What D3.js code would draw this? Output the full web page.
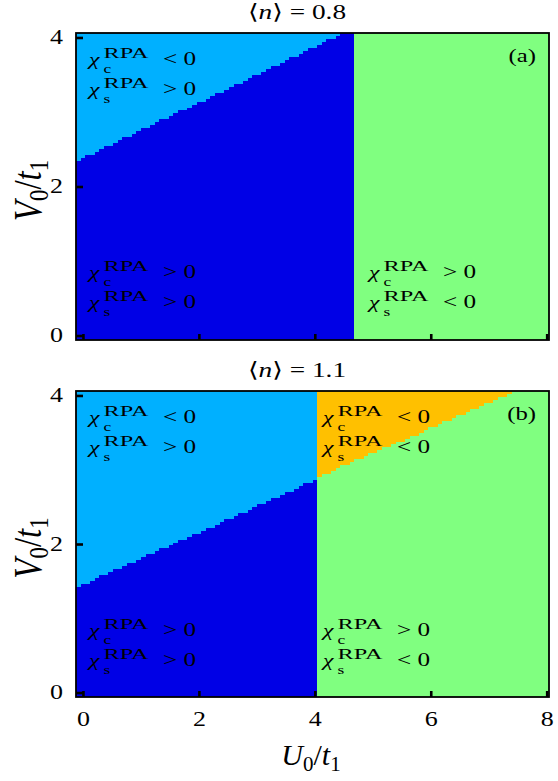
<!DOCTYPE html>
<html><head><meta charset="utf-8">
<script src="https://cdn.jsdelivr.net/npm/d3@7"></script>
<style>
  body { margin: 0; background: #fff; }
  svg { display: block; }
  text { font-family: "Liberation Serif", "DejaVu Serif", serif; fill: #000; }
</style>
</head><body>
<script>
// ---- data -------------------------------------------------------------
// U0/t1 grid columns of the RPA scan (cell width U_STEP)
const U_START = -0.08, U_STEP = 0.08, N_COLS = 102;
const uColumns = d3.range(N_COLS).map(j => +(U_START + j * U_STEP).toFixed(2));

const xTicks = [0, 2, 4, 6, 8];
const yTicks = [0, 2, 4];
const fillings = ["0.8", "1.1"];
const panelTags = ["(a)", "(b)"];

// <n> = 0.8 : V0/t1 where chi_c changes sign, one value per column from U = -0.08
const chiCEdgeA = [2.34, 2.38, 2.42, 2.42, 2.46, 2.50, 2.54, 2.54, 2.58, 2.62,
  2.66, 2.66, 2.70, 2.74, 2.78, 2.78, 2.82, 2.86, 2.90, 2.90,
  2.94, 2.98, 3.02, 3.02, 3.06, 3.10, 3.14, 3.14, 3.18, 3.22,
  3.26, 3.26, 3.30, 3.34, 3.38, 3.38, 3.42, 3.46, 3.50, 3.50,
  3.54, 3.58, 3.62, 3.62, 3.66, 3.70, 3.74, 3.74, 3.78, 3.82,
  3.86, 3.86, 3.90, 3.94, 3.98, 3.98, 4.02, 4.06, 4.06, 4.06];
// <n> = 0.8 : U0/t1 where chi_s changes sign
const chiSEdgeA = 4.68;

// <n> = 1.1 : chi_c sign change on the chi_s > 0 side (columns from U = -0.08)
const chiCEdgeB = [1.42, 1.46, 1.46, 1.50, 1.54, 1.58, 1.58, 1.62, 1.66, 1.66,
  1.70, 1.74, 1.74, 1.78, 1.82, 1.86, 1.86, 1.90, 1.94, 1.94,
  1.98, 2.02, 2.06, 2.06, 2.10, 2.14, 2.14, 2.18, 2.22, 2.22,
  2.26, 2.30, 2.34, 2.34, 2.38, 2.42, 2.42, 2.46, 2.50, 2.54,
  2.54, 2.58, 2.62, 2.62, 2.66, 2.70, 2.70, 2.74, 2.78, 2.82,
  2.82, 2.86];
// <n> = 1.1 : chi_c sign change on the chi_s < 0 side (columns from U = 4.08)
const chiCEdgeB2 = [2.90, 2.94, 2.94, 2.98, 3.02, 3.06, 3.06, 3.10, 3.14, 3.14,
  3.18, 3.22, 3.22, 3.26, 3.30, 3.30, 3.34, 3.38, 3.38, 3.42,
  3.46, 3.46, 3.50, 3.54, 3.58, 3.58, 3.62, 3.66, 3.66, 3.70,
  3.74, 3.74, 3.78, 3.82, 3.82, 3.86, 3.90, 3.90, 3.94, 3.98,
  3.98, 4.02];
const chiCEdgeB2Start = 52;
// <n> = 1.1 : U0/t1 where chi_s changes sign
const chiSEdgeB = 4.04;

// ---- style ------------------------------------------------------------
const C_BOTH_POS = "#0000e6";   // chi_c > 0, chi_s > 0
const C_CNEG = "#00b0ff";       // chi_c < 0, chi_s > 0
const C_SNEG = "#80ff80";       // chi_c > 0, chi_s < 0
const C_BOTH_NEG = "#ffc000";   // chi_c < 0, chi_s < 0
const SX = 1.4;                 // horizontal glyph stretch

const W = 558, H = 781;
const X_DOMAIN = [-0.12, 8.04], Y_DOMAIN = [-0.06, 4.06];
const left = 76, right = 549;
const panels = [
  { top: 33, bottom: 340 },
  { top: 391, bottom: 697 }
];

const svg = d3.select("body").append("svg").attr("width", W).attr("height", H);
const x = d3.scaleLinear().domain(X_DOMAIN).range([left, right]);

function stepArea(y, edges, startCol, below) {
  const pts = edges.map((v, k) => [uColumns[startCol + k] - U_STEP / 2, Math.min(v, Y_DOMAIN[1])]);
  const last = pts[pts.length - 1];
  pts.push([uColumns[startCol + edges.length - 1] + U_STEP / 2, last[1]]);
  return d3.area()
    .x(d => x(Math.max(d[0], X_DOMAIN[0])))
    .y0(() => y(below ? Y_DOMAIN[0] : Y_DOMAIN[1]))
    .y1(d => y(d[1]))
    .curve(d3.curveStepAfter)(pts);
}

function chiLabel(g, px, py, sub, rel) {
  const t = g.append("g").attr("transform", `translate(${px},${py}) scale(${SX},1)`);
  t.append("text").attr("font-family", "DejaVu Serif").attr("font-size", 17)
    .attr("font-style", "italic").text("χ");
  t.append("text").attr("x", 14.5 / SX).attr("y", 8).attr("font-size", 12.5).text(sub);
  t.append("text").attr("x", 14.5 / SX).attr("y", -7.5).attr("font-size", 14.5)
    .attr("textLength", 45 / SX).attr("lengthAdjust", "spacingAndGlyphs").text("RPA");
  t.append("text").attr("x", 74 / SX).attr("font-size", 18).text(rel);
}

panels.forEach((p, i) => {
  const y = d3.scaleLinear().domain(Y_DOMAIN).range([p.bottom, p.top]);
  const g = svg.append("g");
  const clipId = "clip" + i;
  svg.append("clipPath").attr("id", clipId).append("rect")
    .attr("x", left).attr("y", p.top).attr("width", right - left).attr("height", p.bottom - p.top);
  const plot = g.append("g").attr("clip-path", `url(#${clipId})`).attr("shape-rendering", "crispEdges");

  if (i === 0) {
    plot.append("rect").attr("x", x(X_DOMAIN[0])).attr("y", p.top)
      .attr("width", x(chiSEdgeA) - x(X_DOMAIN[0])).attr("height", p.bottom - p.top).attr("fill", C_BOTH_POS);
    plot.append("path").attr("d", stepArea(y, chiCEdgeA, 0, false)).attr("fill", C_CNEG);
    plot.append("rect").attr("x", x(chiSEdgeA)).attr("y", p.top)
      .attr("width", x(X_DOMAIN[1]) - x(chiSEdgeA)).attr("height", p.bottom - p.top).attr("fill", C_SNEG);
  } else {
    plot.append("rect").attr("x", x(X_DOMAIN[0])).attr("y", p.top)
      .attr("width", x(chiSEdgeB) - x(X_DOMAIN[0])).attr("height", p.bottom - p.top).attr("fill", C_CNEG);
    plot.append("path").attr("d", stepArea(y, chiCEdgeB, 0, true)).attr("fill", C_BOTH_POS);
    plot.append("rect").attr("x", x(chiSEdgeB)).attr("y", p.top)
      .attr("width", x(X_DOMAIN[1]) - x(chiSEdgeB)).attr("height", p.bottom - p.top).attr("fill", C_SNEG);
    plot.append("path").attr("d", stepArea(y, chiCEdgeB2, chiCEdgeB2Start, false)).attr("fill", C_BOTH_NEG);
  }

  // axes with inward ticks
  const xa = g.append("g").attr("transform", `translate(0,${p.bottom})`)
    .call(d3.axisBottom(x).tickValues(xTicks).tickFormat(d3.format("d"))
      .tickSizeInner(-6).tickSizeOuter(0).tickPadding(15));
  xa.select(".domain").remove();
  xa.selectAll(".tick line").attr("stroke-width", 2.6).attr("stroke", "#000");
  xa.selectAll(".tick text").attr("font-family", null).attr("font-size", 20)
    .attr("transform", `scale(1.3,1)`).style("display", i === 0 ? "none" : null);

  const ya = g.append("g").attr("transform", `translate(${left},0)`)
    .call(d3.axisLeft(y).tickValues(yTicks).tickFormat(d3.format("d"))
      .tickSizeInner(-7).tickSizeOuter(0).tickPadding(13));
  ya.select(".domain").remove();
  ya.selectAll(".tick line").attr("stroke-width", 2.6).attr("stroke", "#000");
  ya.selectAll(".tick text").attr("font-family", null).attr("font-size", 20)
    .attr("x", 0).attr("transform", `translate(-13,0) scale(1.3,1)`);

  // frame
  g.append("rect").attr("x", left).attr("y", p.top).attr("width", right - left)
    .attr("height", p.bottom - p.top).attr("fill", "none").attr("stroke", "#000").attr("stroke-width", 1.8);

  // title
  const tt = g.append("g").attr("transform", `translate(297,${p.top - 14}) scale(1.3,1)`);
  const title = tt.append("text").attr("text-anchor", "middle").attr("font-size", 21);
  title.append("tspan").text("⟨");
  title.append("tspan").attr("font-style", "italic").text("n");
  title.append("tspan").text("⟩ = " + fillings[i]);

  // panel tag
  g.append("g").attr("transform", `translate(536,${p.top + 29}) scale(1.3,1)`)
    .append("text").attr("text-anchor", "end").attr("font-size", 19).text(panelTags[i]);

  // y label
  const yl = g.append("g")
    .attr("transform", `translate(41,${(p.top + p.bottom) / 2 + 4}) scale(1.2,1) rotate(-90)`)
    .append("text").attr("text-anchor", "middle").attr("font-size", 33);
  yl.append("tspan").attr("font-style", "italic").text("V");
  yl.append("tspan").attr("font-size", 23).attr("dy", 6).text("0");
  yl.append("tspan").attr("dy", -6).text("/");
  yl.append("tspan").attr("font-style", "italic").text("t");
  yl.append("tspan").attr("font-size", 23).attr("dy", 6).text("1");
});

// phase labels
const gl = svg.append("g");
chiLabel(gl, 89, 65, "c", "< 0");  chiLabel(gl, 89, 95, "s", "> 0");
chiLabel(gl, 89, 278, "c", "> 0"); chiLabel(gl, 89, 308, "s", "> 0");
chiLabel(gl, 369, 278, "c", "> 0"); chiLabel(gl, 369, 308, "s", "< 0");
chiLabel(gl, 89, 423, "c", "< 0");  chiLabel(gl, 89, 453, "s", "> 0");
chiLabel(gl, 323, 423, "c", "< 0"); chiLabel(gl, 323, 453, "s", "< 0");
chiLabel(gl, 89, 636, "c", "> 0"); chiLabel(gl, 89, 666, "s", "> 0");
chiLabel(gl, 323, 636, "c", "> 0"); chiLabel(gl, 323, 666, "s", "< 0");

// x label
const xl = svg.append("text").attr("x", 311).attr("y", 765).attr("text-anchor", "middle").attr("font-size", 30);
xl.append("tspan").attr("font-style", "italic").text("U");
xl.append("tspan").attr("font-size", 21).attr("dy", 6).text("0");
xl.append("tspan").attr("dy", -6).text("/");
xl.append("tspan").attr("font-style", "italic").text("t");
xl.append("tspan").attr("font-size", 21).attr("dy", 6).text("1");
</script>
</body></html>
